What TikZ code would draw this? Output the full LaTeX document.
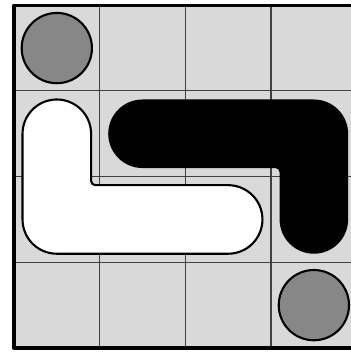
\documentclass[tikz,border=0pt]{standalone}
\usepackage{xcolor}
\definecolor{boardgray}{HTML}{D9D9D9}
\definecolor{stonegray}{HTML}{878787}

\begin{document}
\begin{tikzpicture}[line join=round]
\tikzset{grid/.style={line width=0.35pt,black!75},frame/.style={line width=1.1pt},
  stone/.style={fill=stonegray,draw=black,line width=0.7pt},wpiece/.style={fill=white,draw=black,line width=0.7pt}}
\useasboundingbox (-0.163,-0.047) rectangle (3.932,4.061);
\fill[boardgray] (0,0) rectangle (4,4);
\foreach \i in {1,2,3}{\draw[grid] (\i,0)--(\i,4); \draw[grid] (0,\i)--(4,\i);}
% stones in two corners
\draw[stone] (0.5,3.5) circle (0.41); \draw[stone] (3.5,0.5) circle (0.41);
% white L piece
\draw[wpiece] (0.1,1.5)--(0.1,2.5) arc[start angle=180,end angle=0,radius=0.4]--(0.9,1.95)
  arc[start angle=180,end angle=270,radius=0.05]--(2.5,1.9) arc[start angle=90,end angle=-90,radius=0.4]
  --(0.5,1.1) arc[start angle=270,end angle=180,radius=0.4]--cycle;
% black L piece
\fill (1.5,2.9)--(3.5,2.9) arc[start angle=90,end angle=0,radius=0.4]--(3.9,1.5)
  arc[start angle=0,end angle=-180,radius=0.4]--(3.1,2.05) arc[start angle=0,end angle=90,radius=0.05]
  --(1.5,2.1) arc[start angle=270,end angle=90,radius=0.4]--cycle;
\draw[frame] (0,0) rectangle (4,4);
\end{tikzpicture}
\end{document}
